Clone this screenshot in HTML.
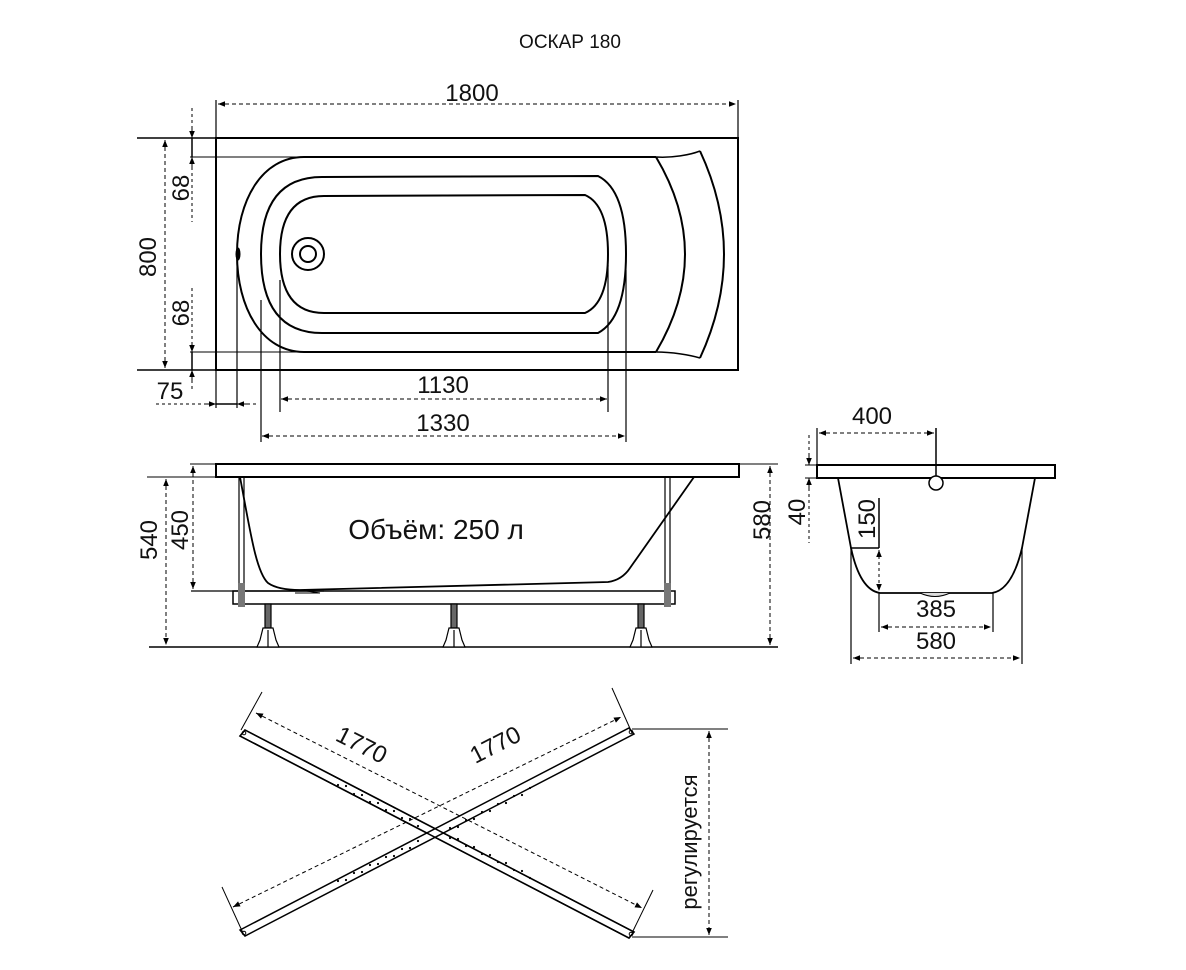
<!DOCTYPE html>
<html><head><meta charset="utf-8"><style>
html,body{margin:0;padding:0;background:#fff;}
svg{display:block;}
text{font-family:"Liberation Sans",sans-serif;fill:#111;}
</style></head><body>
<svg width="1186" height="970" viewBox="0 0 1186 970" xmlns="http://www.w3.org/2000/svg">
<defs>
<marker id="a" viewBox="0 0 10 10" refX="10" refY="5" markerWidth="9" markerHeight="7" orient="auto-start-reverse" markerUnits="userSpaceOnUse"><path d="M0,1 L10,5 L0,9Z" fill="#000"/></marker>
</defs>
<g fill="none" stroke="#000">
<text x="570" y="48" font-size="19" text-anchor="middle" stroke="none">ОСКАР 180</text>

<!-- TOP VIEW -->
<rect x="216" y="138" width="522" height="232" stroke-width="2"/>
<line x1="137" y1="138" x2="216" y2="138" stroke-width="1.5"/>
<line x1="137" y1="370" x2="216" y2="370" stroke-width="1.5"/>
<line x1="190" y1="157" x2="304" y2="157" stroke-width="1"/>
<line x1="190" y1="352" x2="304" y2="352" stroke-width="1"/>
<line x1="216" y1="100" x2="216" y2="408" stroke-width="1.2"/>
<line x1="738" y1="100" x2="738" y2="138" stroke-width="1.2"/>
<line x1="218" y1="104" x2="736" y2="104" stroke-dasharray="4 3" marker-start="url(#a)" marker-end="url(#a)"/>
<text x="472" y="101" font-size="24" text-anchor="middle" stroke="none">1800</text>

<path d="M656,157 L304,157 C262,157 237,200 237,254 C237,308 262,352 304,352 L656,352" stroke-width="2"/>
<path d="M656,157 C672,158 690,155 700,151" stroke-width="1.5"/>
<path d="M656,352 C672,352 690,355 700,358" stroke-width="1.5"/>
<path d="M700,151 Q748,254 700,358" stroke-width="2"/>
<path d="M656,157 Q714,254 656,352" stroke-width="2"/>
<path d="M322,177 L598,176 Q626,190 626,254 Q626,318 598,333 L322,333 Q261,333 261,254 Q261,177 322,177Z" stroke-width="2"/>
<path d="M324,196 L585,195 Q608,205 608,254 Q608,303 585,313 L324,313 Q280,313 280,254 Q280,196 324,196Z" stroke-width="2"/>
<circle cx="308" cy="254" r="16" stroke-width="2"/>
<circle cx="308" cy="254" r="8" stroke-width="2"/>
<ellipse cx="238" cy="254" rx="2" ry="6" fill="#000"/>

<line x1="165" y1="140" x2="165" y2="368" stroke-dasharray="4 3" marker-start="url(#a)" marker-end="url(#a)"/>
<text transform="translate(156,257) rotate(-90)" font-size="24" text-anchor="middle" stroke="none">800</text>
<line x1="192" y1="108" x2="192" y2="128" stroke-dasharray="3 3"/>
<line x1="192" y1="128" x2="192" y2="138" marker-end="url(#a)"/>
<line x1="192" y1="138" x2="192" y2="157" stroke-width="1.5"/>
<line x1="192" y1="167" x2="192" y2="157" marker-end="url(#a)"/>
<line x1="192" y1="167" x2="192" y2="222" stroke-dasharray="3 3"/>
<text transform="translate(189,188) rotate(-90)" font-size="24" text-anchor="middle" stroke="none">68</text>
<line x1="192" y1="288" x2="192" y2="342" stroke-dasharray="3 3"/>
<line x1="192" y1="342" x2="192" y2="352" marker-end="url(#a)"/>
<line x1="192" y1="352" x2="192" y2="370" stroke-width="1.5"/>
<line x1="192" y1="380" x2="192" y2="370" marker-end="url(#a)"/>
<line x1="192" y1="380" x2="192" y2="392" stroke-dasharray="3 3"/>
<text transform="translate(189,313) rotate(-90)" font-size="24" text-anchor="middle" stroke="none">68</text>

<line x1="237" y1="254" x2="237" y2="408" stroke-width="1.2"/>
<line x1="261" y1="300" x2="261" y2="442" stroke-width="1.2"/>
<line x1="280" y1="280" x2="280" y2="412" stroke-width="1.2"/>
<line x1="608" y1="265" x2="608" y2="412" stroke-width="1.2"/>
<line x1="626" y1="270" x2="626" y2="442" stroke-width="1.2"/>
<line x1="156" y1="404" x2="206" y2="404" stroke-dasharray="3 3"/>
<line x1="206" y1="404" x2="216" y2="404" marker-end="url(#a)"/>
<line x1="216" y1="404" x2="237" y2="404" stroke-width="1.5"/>
<line x1="247" y1="404" x2="237" y2="404" marker-end="url(#a)"/>
<line x1="247" y1="404" x2="257" y2="404" stroke-dasharray="3 3"/>
<text x="170" y="399" font-size="24" text-anchor="middle" stroke="none">75</text>
<line x1="281" y1="399" x2="607" y2="399" stroke-dasharray="4 3" marker-start="url(#a)" marker-end="url(#a)"/>
<text x="443" y="393" font-size="24" text-anchor="middle" stroke="none">1130</text>
<line x1="262" y1="436" x2="625" y2="436" stroke-dasharray="4 3" marker-start="url(#a)" marker-end="url(#a)"/>
<text x="443" y="431" font-size="24" text-anchor="middle" stroke="none">1330</text>

<!-- SIDE VIEW -->
<rect x="216" y="464" width="523" height="13" stroke-width="2"/>
<line x1="190" y1="464" x2="216" y2="464"/>
<line x1="739" y1="464" x2="778" y2="464"/>
<line x1="147" y1="477" x2="216" y2="477"/>
<line x1="149" y1="647" x2="778" y2="647" stroke-width="1.5"/>
<line x1="166" y1="479" x2="166" y2="645" stroke-dasharray="4 3" marker-start="url(#a)" marker-end="url(#a)"/>
<text transform="translate(157,540) rotate(-90)" font-size="24" text-anchor="middle" stroke="none">540</text>
<line x1="193" y1="466" x2="193" y2="589" stroke-dasharray="4 3" marker-start="url(#a)" marker-end="url(#a)"/>
<text transform="translate(188,530) rotate(-90)" font-size="24" text-anchor="middle" stroke="none">450</text>
<line x1="770" y1="466" x2="770" y2="645" stroke-dasharray="4 3" marker-start="url(#a)" marker-end="url(#a)"/>
<text transform="translate(770,520) rotate(-90)" font-size="24" text-anchor="middle" stroke="none">580</text>
<path d="M240,477 C250,530 256,572 268,583 Q278,590 300,590 L608,582 Q622,580 630,568 L694,477" stroke-width="1.8"/>
<line x1="191" y1="591" x2="324" y2="591" stroke-width="1.2"/>
<path d="M300,590 L320,593 L295,593" stroke-width="1"/>
<rect x="233" y="591" width="442" height="13" stroke-width="1.5"/>
<line x1="239" y1="477" x2="239" y2="604" stroke-width="1.2"/>
<line x1="244" y1="477" x2="244" y2="604" stroke-width="1.2"/>
<line x1="665" y1="477" x2="665" y2="604" stroke-width="1.2"/>
<line x1="670" y1="477" x2="670" y2="604" stroke-width="1.2"/>
<rect x="238" y="583" width="7" height="24" fill="#777" stroke="none"/>
<rect x="664" y="583" width="7" height="24" fill="#777" stroke="none"/>
<g stroke-width="1.2">
<rect x="265" y="604" width="6" height="24" fill="#666"/><path d="M263,628 L273,628 L276,640 L279,647 L257,647 L260,640Z" fill="#fff"/><line x1="268" y1="630" x2="268" y2="647"/>
<rect x="451" y="604" width="6" height="24" fill="#666"/><path d="M449,628 L459,628 L462,640 L465,647 L443,647 L446,640Z" fill="#fff"/><line x1="454" y1="630" x2="454" y2="647"/>
<rect x="638" y="604" width="6" height="24" fill="#666"/><path d="M636,628 L646,628 L649,640 L652,647 L630,647 L633,640Z" fill="#fff"/><line x1="641" y1="630" x2="641" y2="647"/>
</g>
<text x="436" y="539" font-size="28" text-anchor="middle" stroke="none">Объём: 250 л</text>

<!-- END VIEW -->
<rect x="817" y="465" width="238" height="13" stroke-width="2"/>
<line x1="805" y1="465" x2="817" y2="465"/>
<line x1="805" y1="478" x2="817" y2="478"/>
<line x1="817" y1="428" x2="817" y2="465" stroke-width="1.2"/>
<line x1="819" y1="433" x2="934" y2="433" stroke-dasharray="4 3" marker-start="url(#a)" marker-end="url(#a)"/>
<line x1="936" y1="428" x2="936" y2="476" stroke-width="1.5"/>
<circle cx="936" cy="483" r="7" fill="#fff" stroke-width="1.5"/>
<text x="872" y="424" font-size="24" text-anchor="middle" stroke="none">400</text>
<line x1="809" y1="435" x2="809" y2="455" stroke-dasharray="3 3"/>
<line x1="809" y1="455" x2="809" y2="465" marker-end="url(#a)"/>
<line x1="809" y1="488" x2="809" y2="478" marker-end="url(#a)"/>
<line x1="809" y1="488" x2="809" y2="543" stroke-dasharray="3 3"/>
<text transform="translate(805,512) rotate(-90)" font-size="24" text-anchor="middle" stroke="none">40</text>
<path d="M838,478 L851,548 Q860,590 880,593 L992,593 Q1012,590 1022,548 L1035,478" stroke-width="1.8"/>
<path d="M920,593 Q935,600 950,593" stroke-width="1" fill="#ddd"/>
<line x1="879" y1="498" x2="879" y2="548" stroke-width="1.5"/>
<line x1="851" y1="548" x2="879" y2="548" stroke-width="1.5"/>
<text transform="translate(875,519) rotate(-90)" font-size="24" text-anchor="middle" stroke="none">150</text>
<line x1="879" y1="550" x2="879" y2="591" stroke-dasharray="3 3" marker-start="url(#a)" marker-end="url(#a)"/>
<line x1="879" y1="593" x2="879" y2="632" stroke-width="1.2"/>
<line x1="993" y1="593" x2="993" y2="632" stroke-width="1.2"/>
<line x1="881" y1="627" x2="991" y2="627" stroke-dasharray="4 3" marker-start="url(#a)" marker-end="url(#a)"/>
<text x="936" y="617" font-size="24" text-anchor="middle" stroke="none">385</text>
<line x1="851" y1="548" x2="851" y2="664" stroke-width="1.2"/>
<line x1="1022" y1="548" x2="1022" y2="664" stroke-width="1.2"/>
<line x1="853" y1="658" x2="1020" y2="658" stroke-dasharray="4 3" marker-start="url(#a)" marker-end="url(#a)"/>
<text x="936" y="649" font-size="24" text-anchor="middle" stroke="none">580</text>

<!-- CROSS -->
<polygon points="245,730 634,932 629,938 240,736" fill="#fff" stroke-width="1.5"/>
<polygon points="240,930 629,728 634,734 245,936" fill="#fff" stroke-width="1.5"/>
<polygon points="245,730 634,932 629,938 240,736" fill="none" stroke-width="1.5"/>
<circle cx="244" cy="733" r="1.8"/><circle cx="631" cy="934" r="1.8"/>
<circle cx="244" cy="933" r="1.8"/><circle cx="631" cy="732" r="1.8"/>
<g fill="#000" stroke="none">
<circle cx="338" cy="785" r="1.1"/><circle cx="346" cy="786" r="1.1"/><circle cx="354" cy="794" r="1.1"/><circle cx="362" cy="795" r="1.1"/><circle cx="370" cy="802" r="1.1"/><circle cx="378" cy="803" r="1.1"/><circle cx="386" cy="810" r="1.1"/><circle cx="394" cy="811" r="1.1"/><circle cx="402" cy="818" r="1.1"/><circle cx="410" cy="819" r="1.1"/><circle cx="418" cy="826" r="1.1"/>
<circle cx="450" cy="838" r="1.1"/><circle cx="458" cy="839" r="1.1"/><circle cx="466" cy="846" r="1.1"/><circle cx="474" cy="847" r="1.1"/><circle cx="482" cy="854" r="1.1"/><circle cx="490" cy="855" r="1.1"/><circle cx="498" cy="862" r="1.1"/><circle cx="506" cy="863" r="1.1"/><circle cx="514" cy="870" r="1.1"/><circle cx="522" cy="871" r="1.1"/><circle cx="530" cy="878" r="1.1"/>
<circle cx="338" cy="881" r="1.1"/><circle cx="346" cy="880" r="1.1"/><circle cx="354" cy="873" r="1.1"/><circle cx="362" cy="872" r="1.1"/><circle cx="370" cy="865" r="1.1"/><circle cx="378" cy="864" r="1.1"/><circle cx="386" cy="857" r="1.1"/><circle cx="394" cy="856" r="1.1"/><circle cx="402" cy="849" r="1.1"/><circle cx="410" cy="848" r="1.1"/><circle cx="418" cy="841" r="1.1"/>
<circle cx="450" cy="828" r="1.1"/><circle cx="458" cy="827" r="1.1"/><circle cx="466" cy="820" r="1.1"/><circle cx="474" cy="819" r="1.1"/><circle cx="482" cy="812" r="1.1"/><circle cx="490" cy="811" r="1.1"/><circle cx="498" cy="804" r="1.1"/><circle cx="506" cy="803" r="1.1"/><circle cx="514" cy="796" r="1.1"/><circle cx="522" cy="795" r="1.1"/><circle cx="530" cy="788" r="1.1"/>
</g>
<line x1="241" y1="730" x2="262" y2="692"/>
<line x1="632" y1="933" x2="653" y2="890"/>
<line x1="256" y1="713" x2="642" y2="908" stroke-dasharray="4 3" marker-start="url(#a)" marker-end="url(#a)"/>
<line x1="243" y1="933" x2="222" y2="887"/>
<line x1="632" y1="733" x2="612" y2="688"/>
<line x1="233" y1="907" x2="621" y2="717" stroke-dasharray="4 3" marker-start="url(#a)" marker-end="url(#a)"/>
<text transform="translate(358,752) rotate(27)" font-size="24" text-anchor="middle" stroke="none">1770</text>
<text transform="translate(499,752) rotate(-27)" font-size="24" text-anchor="middle" stroke="none">1770</text>
<line x1="632" y1="729" x2="728" y2="729"/>
<line x1="632" y1="937" x2="728" y2="937"/>
<line x1="709" y1="731" x2="709" y2="935" stroke-dasharray="4 3" marker-start="url(#a)" marker-end="url(#a)"/>
<text transform="translate(697,842) rotate(-90)" font-size="22" text-anchor="middle" stroke="none">регулируется</text>
</g>
</svg>
</body></html>
